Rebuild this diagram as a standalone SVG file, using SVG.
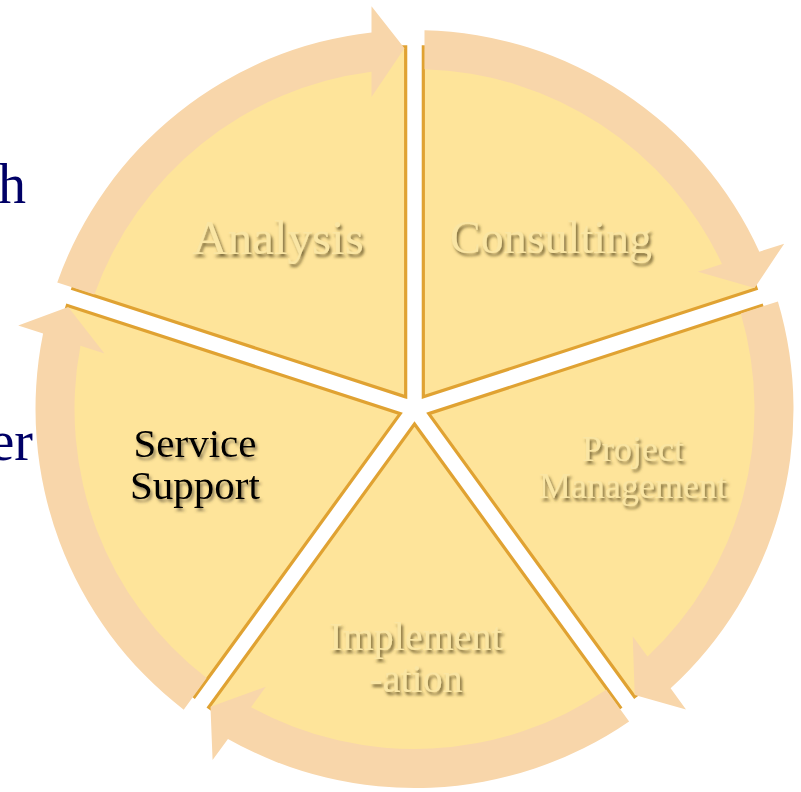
<svg xmlns="http://www.w3.org/2000/svg" width="801" height="792" viewBox="0 0 801 792">
  <style>
    .wedge { fill: #FEE49A; stroke: #E0A232; stroke-width: 3.2; stroke-linejoin: miter; }
    .band { fill: #F8D6AA; stroke: none; }
    .emb { font-family: "Liberation Serif", "Times New Roman", serif; fill: #FAE6A4; text-anchor: middle; filter: url(#emboss); }
    .dark { font-family: "Liberation Serif", "Times New Roman", serif; fill: #000000; text-anchor: middle; filter: url(#shadow); }
    .bg { font-family: "Liberation Serif", "Times New Roman", serif; fill: #000066; font-size: 56px; text-anchor: end; }
  </style>
  <defs>
    <filter id="emboss" x="-10%" y="-20%" width="120%" height="150%">
      <feGaussianBlur in="SourceAlpha" stdDeviation="1.4" result="b"/>
      <feOffset in="b" dx="2" dy="3" result="o"/>
      <feFlood flood-color="#5E4E22" flood-opacity="0.8"/>
      <feComposite in2="o" operator="in" result="s"/>
      <feMerge><feMergeNode in="s"/><feMergeNode in="SourceGraphic"/></feMerge>
    </filter>
    <filter id="shadow" x="-10%" y="-20%" width="120%" height="150%">
      <feGaussianBlur in="SourceAlpha" stdDeviation="1.4" result="b"/>
      <feOffset in="b" dx="2" dy="3" result="o"/>
      <feFlood flood-color="#4A4030" flood-opacity="0.6"/>
      <feComposite in2="o" operator="in" result="s"/>
      <feMerge><feMergeNode in="s"/><feMergeNode in="SourceGraphic"/></feMerge>
    </filter>
  </defs>

  <rect x="0" y="0" width="801" height="792" fill="#FFFFFF"/>

  <!-- partially visible background text -->
  <text class="bg" x="26" y="203">h</text>
  <text class="bg" x="33" y="460">er</text>

  <g id="analysis">
    <path class="wedge" d="M405.68,396.86 L72.81,288.70 A350,350 0 0 1 405.68,46.86 Z"/>
    <text class="emb" x="278" y="254" font-size="49">Analysis</text>
  </g>
  <g id="consulting">
    <path class="wedge" d="M423.32,396.86 L423.32,46.86 A350,350 0 0 1 756.19,288.70 Z"/>
    <text class="emb" x="551" y="253" font-size="46">Consulting</text>
  </g>
  <g id="project-management">
    <path class="wedge" d="M428.77,413.64 L761.64,305.48 A350,350 0 0 1 634.50,696.80 Z"/>
    <text class="emb" x="633" y="461" font-size="36">Project</text>
    <text class="emb" x="633" y="498" font-size="36">Management</text>
  </g>
  <g id="implementation">
    <path class="wedge" d="M414.5,424 L620.23,707.16 A350,350 0 0 1 208.77,707.16 Z"/>
    <text class="emb" x="416" y="650" font-size="40">Implement</text>
    <text class="emb" x="416" y="692" font-size="40">-ation</text>
  </g>
  <g id="service-support">
    <path class="wedge" d="M400.23,413.64 L194.50,696.80 A350,350 0 0 1 67.36,305.48 Z"/>
    <text class="dark" x="195" y="457" font-size="41">Service</text>
    <text class="dark" x="195" y="499" font-size="41">Support</text>
  </g>

  <g id="connectors">
    <path class="band" d="M57.26,282.41 A379,379 0 0 1 371.5,32.45 L371.5,6.29 L404.5,48.14 L371.5,96.95 L371.5,71.73 A340,340 0 0 0 94.37,294.47 Z"/>
    <path class="band" d="M424.5,30.13 A379,379 0 0 1 759.33,251.74 L784.21,243.65 L754.61,287.98 L697.99,271.67 L721.97,263.88 A340,340 0 0 0 424.5,69.15 Z"/>
    <path class="band" d="M777.92,301.43 A379,379 0 0 1 670.62,688.37 L686.00,709.53 L634.70,695.06 L632.71,636.18 L647.53,656.59 A340,340 0 0 0 740.81,313.49 Z"/>
    <path class="band" d="M629.11,721.39 A379,379 0 0 1 227.96,738.91 L212.58,760.07 L210.48,706.82 L265.87,686.72 L251.05,707.13 A340,340 0 0 0 606.17,689.83 Z"/>
    <path class="band" d="M183.71,709.63 A379,379 0 0 1 43.09,333.54 L18.21,325.45 L68.21,307.00 L104.43,353.47 L80.45,345.68 A340,340 0 0 0 206.65,678.07 Z"/>
  </g>
</svg>
